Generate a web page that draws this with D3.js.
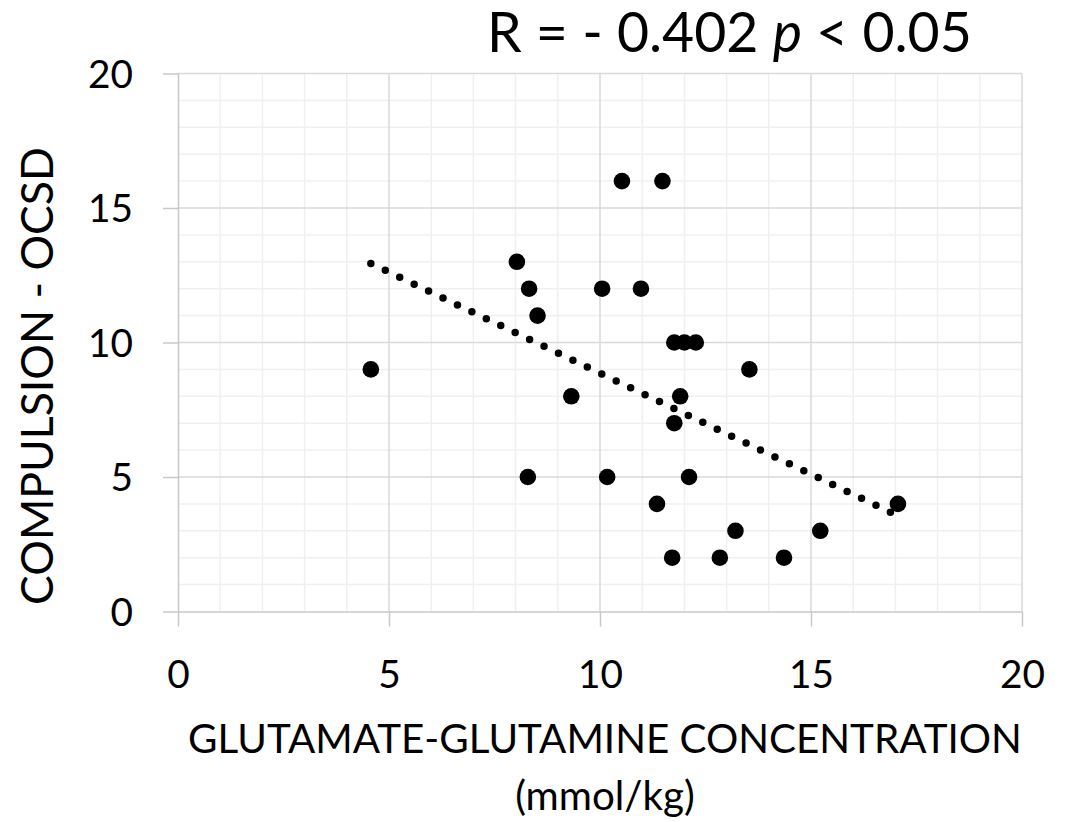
<!DOCTYPE html>
<html lang="en">
<head>
<meta charset="UTF-8">
<title>Glx vs Compulsion</title>
<style>
    body { margin: 0; background: #fff; overflow: hidden; }
    svg { display: block; }
    text { font-family: Lato, "Open Sans", sans-serif; fill: #000; }
</style>
</head>
<body>
<svg id="chart" width="1073" height="822"></svg>
<script src="https://d3js.org/d3.v7.min.js"></script>
<script>
    // values
    const glxValues = [4.57, 8.03, 8.32, 8.52, 10.52, 11.48, 10.05, 10.97, 11.76, 12.0, 12.27, 13.54, 9.32,
        11.9, 11.76, 8.29, 10.17, 12.11, 11.35, 13.21, 15.22, 11.71, 12.84, 14.36, 17.06];
    const compulsionValues = [9, 13, 12, 11, 16, 16, 12, 12, 10, 10, 10, 9, 8,
        8, 7, 5, 5, 5, 4, 3, 3, 2, 2, 2, 4];
    const xTicks = [0, 5, 10, 15, 20];
    const yTicks = [0, 5, 10, 15, 20];
    const minorTicks = d3.range(0, 21, 1);

    const svg = d3.select("#chart");
    const plotLeft = 178, plotRight = 1022, plotTop = 73.5, plotBottom = 611.5;

    const x = d3.scaleLinear().domain([0, 20]).range([plotLeft, plotRight]);
    const y = d3.scaleLinear().domain([0, 20]).range([plotBottom, plotTop]);

    // scale a text's font size so that it spans a given width
    function fitText(sel, target) {
        sel.style("font-size", "40px");
        const w = sel.node().getComputedTextLength();
        const size = 40 * target / w;
        sel.style("font-size", size + "px");
        return size;
    }

    // minor grid
    const grid = svg.append("g");
    grid.selectAll(".vminor").data(minorTicks.filter(d => d % 5 !== 0)).enter().append("line")
        .attr("x1", d => x(d)).attr("x2", d => x(d)).attr("y1", plotTop).attr("y2", plotBottom)
        .style("stroke", "#f0f0f0").style("stroke-width", 1.5);
    grid.selectAll(".hminor").data(minorTicks.filter(d => d % 5 !== 0)).enter().append("line")
        .attr("y1", d => y(d)).attr("y2", d => y(d)).attr("x1", plotLeft).attr("x2", plotRight)
        .style("stroke", "#f0f0f0").style("stroke-width", 1.5);
    // major grid
    grid.selectAll(".vmajor").data(xTicks.slice(1)).enter().append("line")
        .attr("x1", d => x(d)).attr("x2", d => x(d)).attr("y1", plotTop).attr("y2", plotBottom)
        .style("stroke", "#d9d9d9").style("stroke-width", 1.5);
    grid.selectAll(".hmajor").data(yTicks.slice(1)).enter().append("line")
        .attr("y1", d => y(d)).attr("y2", d => y(d)).attr("x1", plotLeft).attr("x2", plotRight)
        .style("stroke", "#d9d9d9").style("stroke-width", 1.5);

    // axes
    const tickLen = 15;
    const xAxis = svg.append("g").attr("transform", `translate(0,${plotBottom})`)
        .call(d3.axisBottom(x).tickValues(xTicks).tickSize(tickLen).tickSizeOuter(0).tickPadding(28));
    const yAxis = svg.append("g").attr("transform", `translate(${plotLeft},0)`)
        .call(d3.axisLeft(y).tickValues(yTicks).tickSize(tickLen).tickSizeOuter(0).tickPadding(30));
    [xAxis, yAxis].forEach(a => {
        a.attr("font-family", null).attr("font-size", null);
        a.select(".domain").style("stroke", "#c8c8c8").style("stroke-width", 1.5);
        a.selectAll(".tick line").style("stroke", "#c8c8c8").style("stroke-width", 1.5);
        a.selectAll("text").style("fill", "#000");
    });
    const tmp = svg.append("text").text("20");
    const tickSize = fitText(tmp, 45);
    tmp.remove();
    xAxis.selectAll("text").style("font-size", tickSize + "px").attr("dy", null)
        .attr("y", 688 - plotBottom);
    yAxis.selectAll("text").style("font-size", tickSize + "px").attr("dy", "0.36em")
        .attr("x", -(plotLeft - 133));

    // trend line (least squares through the points)
    const mx = d3.mean(glxValues), my = d3.mean(compulsionValues);
    const sxy = d3.sum(glxValues, (v, i) => (v - mx) * (compulsionValues[i] - my));
    const sxx = d3.sum(glxValues, v => (v - mx) * (v - mx));
    const slope = sxy / sxx, icpt = my - slope * mx;
    const xr = d3.extent(glxValues);
    svg.append("line")
        .attr("x1", x(xr[0])).attr("y1", y(icpt + slope * xr[0]))
        .attr("x2", x(xr[1])).attr("y2", y(icpt + slope * xr[1]))
        .style("stroke", "#000").style("stroke-width", 7.5)
        .style("stroke-linecap", "round").style("stroke-dasharray", "0 16");

    // points
    svg.append("g").selectAll("circle")
        .data(glxValues.map((v, i) => [v, compulsionValues[i]]))
        .enter().append("circle")
        .attr("cx", d => x(d[0])).attr("cy", d => y(d[1])).attr("r", 8.3)
        .style("fill", "#000");

    // title
    const title = svg.append("text").attr("x", 487).attr("y", 52);
    title.append("tspan").text("R = - 0.402 ");
    title.append("tspan").style("font-style", "italic").text("p");
    title.append("tspan").text(" < 0.05");
    fitText(title, 485);

    // x axis title
    const xt1 = svg.append("text").attr("x", 605).attr("y", 753).attr("text-anchor", "middle")
        .text("GLUTAMATE-GLUTAMINE CONCENTRATION");
    const xtSize = fitText(xt1, 834);
    svg.append("text").attr("x", 605).attr("y", 810).attr("text-anchor", "middle")
        .style("font-size", xtSize + "px").text("(mmol/kg)");

    // y axis title
    const yt = svg.append("text").attr("text-anchor", "middle")
        .attr("transform", "translate(53,376) rotate(-90)")
        .text("COMPULSION - OCSD");
    fitText(yt, 458);
</script>
</body>
</html>
